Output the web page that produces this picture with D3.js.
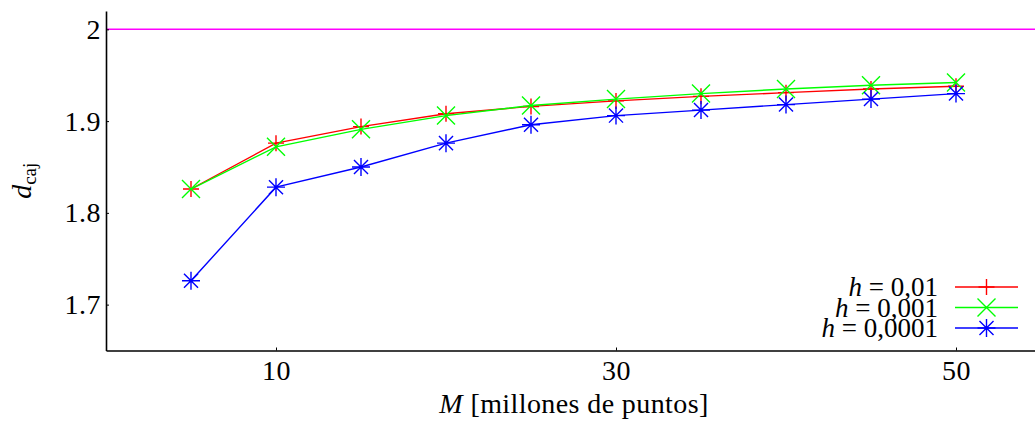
<!DOCTYPE html>
<html>
<head>
<meta charset="utf-8">
<script src="https://cdn.jsdelivr.net/npm/d3@7"></script>
<style>
  html, body { margin: 0; padding: 0; background: #fff; }
  svg { display: block; }
  text { font-family: "Liberation Serif", "Times New Roman", serif; fill: #000; }
</style>
</head>
<body>
<svg id="chart" width="1035" height="421"></svg>
<script>
// Box-counting dimension estimates against number of sample points
const millions = [5, 10, 15, 20, 25, 30, 35, 40, 45, 50];
const dimH001 = [1.826, 1.876, 1.894, 1.908, 1.916, 1.922, 1.927, 1.931, 1.935, 1.938];
const dimH0001 = [1.826, 1.872, 1.891, 1.906, 1.917, 1.924, 1.930, 1.935, 1.939, 1.942];
const dimH00001 = [1.726, 1.828, 1.850, 1.876, 1.896, 1.906, 1.912, 1.918, 1.924, 1.930];
const referenceDim = 2;

const xTicks = [10, 30, 50];
const yTicks = [1.7, 1.8, 1.9, 2];
const yTickLabels = ["1.7", "1.8", "1.9", "2"];
const seriesLabels = ["0,01", "0,001", "0,0001"];
const seriesColors = ["#ff0000", "#00ff00", "#0000ff"];
const seriesMarkers = ["plus", "cross", "star"];

const series = [dimH001, dimH0001, dimH00001].map((vals, i) => ({
  label: seriesLabels[i],
  color: seriesColors[i],
  marker: seriesMarkers[i],
  points: millions.map((m, j) => ({ m, d: vals[j] }))
}));

const svg = d3.select("#chart");
const plotLeft = 106, plotRight = 1041, plotTop = 11, plotBottom = 350.5;

const x = d3.scaleLinear().domain([0, 55]).range([plotLeft, plotRight]);
const y = d3.scaleLinear().domain([1.65, 2.02]).range([plotBottom, plotTop]);

// marker path generators, centred on (0,0)
function markerPath(kind, s) {
  const p = d3.path();
  if (kind === "plus" || kind === "star") {
    p.moveTo(-s, 0); p.lineTo(s, 0);
    p.moveTo(0, -s); p.lineTo(0, s);
  }
  if (kind === "cross" || kind === "star") {
    const c = kind === "star" ? s * 0.78 : s;
    p.moveTo(-c, -c); p.lineTo(c, c);
    p.moveTo(-c, c); p.lineTo(c, -c);
  }
  return p.toString();
}
const markerSize = { plus: 8, cross: 9, star: 9 };

// reference line d = 2
svg.append("line")
  .attr("x1", plotLeft).attr("x2", 1035)
  .attr("y1", y(referenceDim)).attr("y2", y(referenceDim))
  .attr("stroke", "#ff00ff").attr("stroke-width", 1.5);

// axes
const xAxis = d3.axisBottom(x).tickValues(xTicks).tickSizeInner(-3).tickSizeOuter(0).tickPadding(10)
  .tickFormat(d3.format("d"));
const yAxis = d3.axisLeft(y).tickValues(yTicks).tickSizeInner(-3).tickSizeOuter(0).tickPadding(5)
  .tickFormat((d, i) => yTickLabels[i]);

const gx = svg.append("g").attr("transform", `translate(0,${plotBottom})`).call(xAxis);
const gy = svg.append("g").attr("transform", `translate(${plotLeft},0)`).call(yAxis);
[gx, gy].forEach(g => {
  g.select(".domain").attr("stroke", "#000").attr("stroke-width", 1.6);
  g.selectAll(".tick line").attr("stroke", "#000").attr("stroke-width", 1);
  g.selectAll(".tick text").attr("font-family", "Liberation Serif").attr("font-size", 28)
    .attr("letter-spacing", 0.5).attr("fill", "#000");
});

// series lines and markers
const line = d3.line().x(d => x(d.m)).y(d => y(d.d));
series.forEach(s => {
  svg.append("path").datum(s.points)
    .attr("d", line).attr("fill", "none")
    .attr("stroke", s.color).attr("stroke-width", 1.4);
  svg.append("g").selectAll("path").data(s.points).join("path")
    .attr("transform", d => `translate(${x(d.m)},${y(d.d)})`)
    .attr("d", markerPath(s.marker, markerSize[s.marker]))
    .attr("fill", "none").attr("stroke", s.color).attr("stroke-width", 1.4);
});

// axis titles
const xt = svg.append("text")
  .attr("x", 574).attr("y", 413)
  .attr("text-anchor", "middle").attr("font-size", 28).attr("letter-spacing", 0.4);
xt.append("tspan").attr("font-style", "italic").text("M");
xt.append("tspan").text(" [millones de puntos]");

const yt = svg.append("text")
  .attr("transform", `translate(31,${(plotTop + plotBottom) / 2}) rotate(-90)`)
  .attr("text-anchor", "middle").attr("font-size", 28);
yt.append("tspan").attr("font-style", "italic").text("d");
yt.append("tspan").attr("font-size", 19).attr("dy", 5).text("caj");

// legend
const legend = svg.append("g");
const rowY = [287, 307.5, 328];
series.forEach((s, i) => {
  const t = legend.append("text")
    .attr("x", 938).attr("y", rowY[i]).attr("dy", "0.35em")
    .attr("text-anchor", "end").attr("font-size", 27);
  t.append("tspan").attr("font-style", "italic").text("h");
  t.append("tspan").text(" = " + s.label);
  legend.append("line")
    .attr("x1", 955).attr("x2", 1018).attr("y1", rowY[i]).attr("y2", rowY[i])
    .attr("stroke", s.color).attr("stroke-width", 1.4);
  legend.append("path")
    .attr("transform", `translate(986.5,${rowY[i]})`)
    .attr("d", markerPath(s.marker, markerSize[s.marker]))
    .attr("fill", "none").attr("stroke", s.color).attr("stroke-width", 1.4);
});
</script>
</body>
</html>
